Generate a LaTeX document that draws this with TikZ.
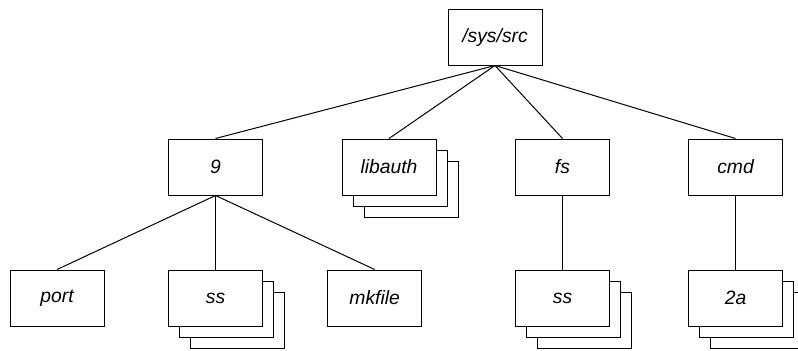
\documentclass[tikz,border=0pt]{standalone}
\usepackage{fontspec}
\setmainfont{Liberation Sans}
\usetikzlibrary{shadows}
\begin{document}
\begin{tikzpicture}[x=0.75pt,y=-0.75pt,
  dirbox/.style={draw, line width=0.75pt, fill=white, minimum width=70.5pt,
    minimum height=42pt, inner sep=0pt,
    font=\fontsize{14.5}{16}\selectfont\itshape},
  stackbox/.style={dirbox, double copy shadow={shadow xshift=8.25pt,
    shadow yshift=-8.25pt, draw, fill=white, line width=0.75pt}},
  link/.style={line width=0.75pt}]
\useasboundingbox (0,0) rectangle (798,350);
% root directory
\node[dirbox] (root) at (495,37) {/sys/src};
% second level
\node[dirbox]   (nine)    at (215.5,167) {9};
\node[stackbox] (libauth) at (389,167)   {libauth};
\node[dirbox]   (fs)      at (562.5,167) {fs};
\node[dirbox]   (cmd)     at (735.5,167) {cmd};
% third level
\node[dirbox]   (port)   at (57,298)    {port};
\node[stackbox] (ssa)    at (215.5,298) {ss};
\node[dirbox]   (mkfile) at (374.7,298) {mkfile};
\node[stackbox] (ssb)    at (562.5,298) {ss};
\node[stackbox] (twoa)   at (735.5,298) {2a};
% tree edges
\foreach \c in {nine,libauth,fs,cmd}
  \draw[link] (root.south) -- (\c.north);
\foreach \c in {port,ssa,mkfile}
  \draw[link] (nine.south) -- (\c.north);
\draw[link] (fs.south) -- (ssb.north);
\draw[link] (cmd.south) -- (twoa.north);
\end{tikzpicture}
\end{document}
